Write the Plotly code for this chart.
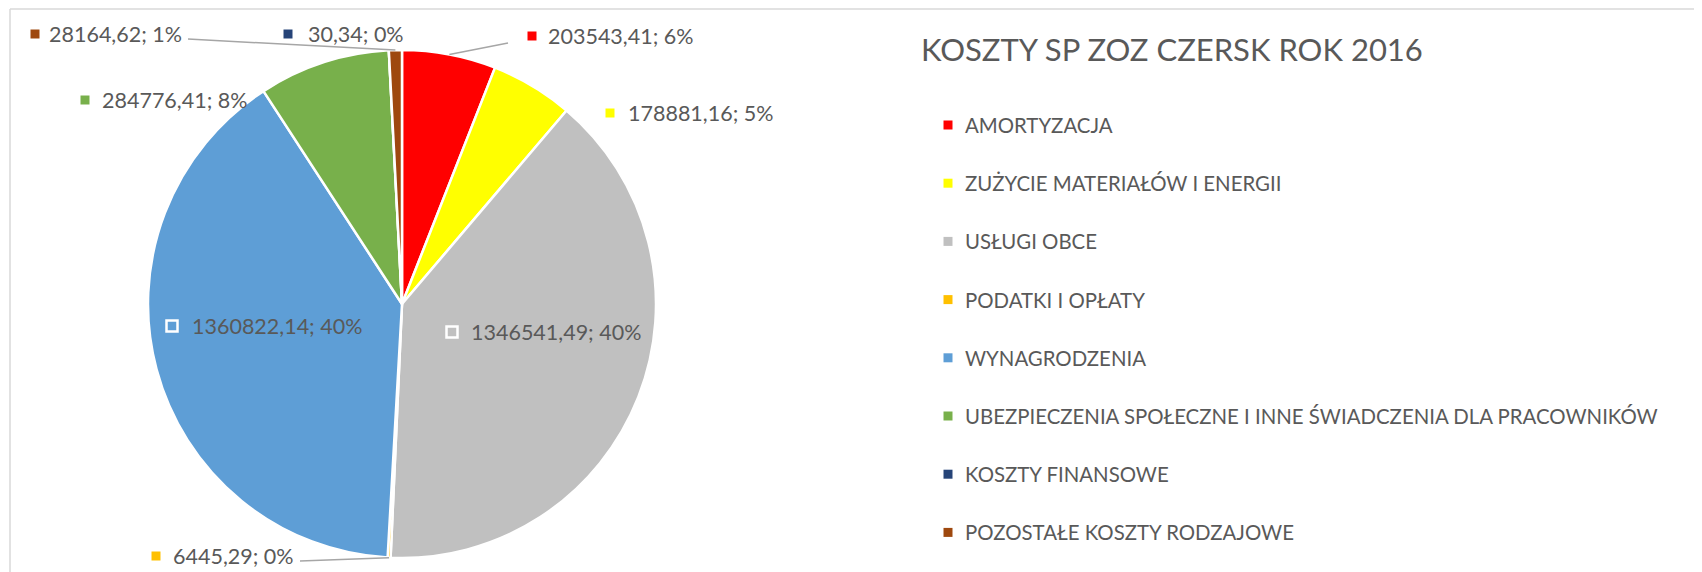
import math
import plotly.graph_objects as go

W, H = 1702, 572
OFF = 8                      # page body margin of the html page
FW, FH = W - OFF, H - OFF    # figure size

# ==============================
# DATA
# ==============================
labels = ['AMORTYZACJA', 'ZUŻYCIE MATERIAŁÓW I ENERGII', 'USŁUGI OBCE', 'PODATKI I OPŁATY',
          'WYNAGRODZENIA', 'UBEZPIECZENIA SPOŁECZNE I INNE ŚWIADCZENIA DLA PRACOWNIKÓW',
          'KOSZTY FINANSOWE', 'POZOSTAŁE KOSZTY RODZAJOWE']
values = [203543.41, 178881.16, 1346541.49, 6445.29, 1360822.14, 284776.41, 30.34, 28164.62]
percent_labels = [6, 5, 40, 0, 40, 8, 0, 1]   # as shown on the chart
colors = ['#FF0000', '#FFFF00', '#C0C0C0', '#FFC000', '#5E9ED6', '#78B04B', '#264478', '#9E480E']
title = 'KOSZTY SP ZOZ CZERSK ROK 2016'

# ==============================
# LAYOUT SETTINGS (page pixels from top-left)
# ==============================
CX, CY, R = 402, 304, 254
FONT = 'Lato'
GREY = '#595959'

# data label placement: (marker x, text x, y, inside?, leader line start or None)
label_pos = [
    (532, 546, 36, False, (508, 43)),
    (610, 626, 113, False, None),
    (452, 469, 332, True, None),
    (156, 171, 556, False, (300, 561)),
    (172, 190, 326, True, None),
    (85, 100, 100, False, None),
    (288, 306, 34, False, None),
    (35, 47, 34, False, (188, 39)),
]

LEG_MX, LEG_TX, LEG_Y0, LEG_DY = 948, 963, 125, 58.2


def px(x):
    return (x - OFF) / FW


def py(y):
    return 1 - (y - OFF) / FH


def fmt(v):
    return f'{v:.2f}'.replace('.', ',')


def square(mx, my, size, fill, line_color=None, line_width=0):
    return dict(type='rect', xref='paper', yref='paper',
                x0=px(mx - size / 2), x1=px(mx + size / 2),
                y0=py(my + size / 2), y1=py(my - size / 2),
                fillcolor=fill, line=dict(color=line_color or fill, width=line_width))


pie = go.Pie(labels=labels, values=values, sort=False, direction='clockwise', rotation=0,
             marker=dict(colors=colors, line=dict(color='white', width=2.5)),
             textinfo='none', hoverinfo='label+value+percent', showlegend=False,
             domain=dict(x=[px(CX - R), px(CX + R)], y=[py(CY + R), py(CY - R)]))

fig = go.Figure(data=[pie])

shapes = []
annotations = []

# chart frame
shapes.append(dict(type='line', xref='paper', yref='paper', x0=px(10), x1=1, y0=py(9), y1=py(9),
                   line=dict(color='#D9D9D9', width=1.5)))
shapes.append(dict(type='line', xref='paper', yref='paper', x0=px(10), x1=px(10), y0=py(9), y1=0,
                   line=dict(color='#D9D9D9', width=1.5)))

# data labels
total = sum(values)
cum = 0
for v, p, c, pos in zip(values, percent_labels, colors, label_pos):
    mx, tx, ty, inside, line_start = pos
    mid = (cum + v / 2) / total
    cum += v
    if inside:
        shapes.append(square(mx, ty, 11, c, 'white', 2.5))
    else:
        shapes.append(square(mx, ty, 9, c))
    annotations.append(dict(xref='paper', yref='paper', x=px(tx), y=py(ty), xanchor='left',
                            yanchor='middle', showarrow=False, text=f'{fmt(v)}; {p}%',
                            font=dict(family=FONT, size=21.5, color=GREY)))
    if line_start:
        ang = 2 * math.pi * mid
        ex = CX + R * math.sin(ang)
        ey = CY - R * math.cos(ang)
        shapes.append(dict(type='line', xref='paper', yref='paper',
                           x0=px(line_start[0]), y0=py(line_start[1]), x1=px(ex), y1=py(ey),
                           line=dict(color='#A6A6A6', width=1.5)))

# legend
for i, (lab, c) in enumerate(zip(labels, colors)):
    y = LEG_Y0 + i * LEG_DY
    shapes.append(square(LEG_MX, y, 9, c))
    annotations.append(dict(xref='paper', yref='paper', x=px(LEG_TX), y=py(y), xanchor='left',
                            yanchor='middle', showarrow=False, text=lab,
                            font=dict(family=FONT, size=20.4, color=GREY)))

# title
annotations.append(dict(xref='paper', yref='paper', x=px(919), y=py(49), xanchor='left',
                        yanchor='middle', showarrow=False, text=title,
                        font=dict(family=FONT, size=31, color=GREY)))

fig.update_layout(width=FW, height=FH, margin=dict(l=0, r=0, t=0, b=0),
                  paper_bgcolor='white', plot_bgcolor='white',
                  shapes=shapes, annotations=annotations)

fig.write_html('out.html')
